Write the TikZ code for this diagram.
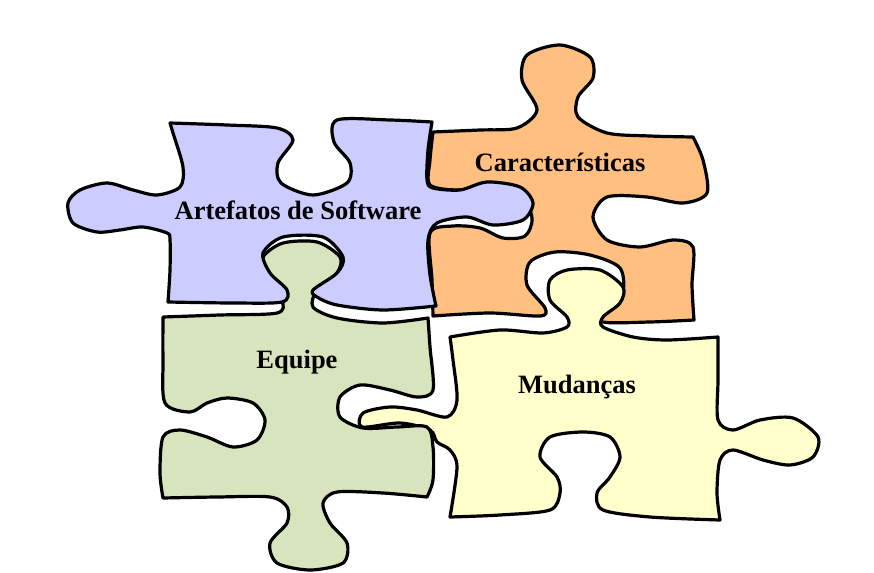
\documentclass[tikz,border=0pt]{standalone}
\usepackage{fontspec}
\setmainfont{Liberation Serif}
\definecolor{pcblue}{RGB}{204,204,255}
\definecolor{pcorange}{RGB}{255,191,128}
\definecolor{pcgreen}{RGB}{215,228,189}
\definecolor{pcyellow}{RGB}{255,255,204}
\begin{document}
\begin{tikzpicture}[x=1pt,y=-1pt,
  piece/.style={draw=black,line width=3.2pt,line join=round},
  lbl/.style={font=\bfseries\fontsize{26.5}{30}\selectfont}]
  \useasboundingbox (0,0) rectangle (874,572);
  % orange piece (back)
  \filldraw[piece,fill=pcorange] (433,132)
    -- plot[smooth] coordinates {(433,132) (480,130) (517,128) (537,110) (522,80) (527,55) (560,45) (590,57) (593,78) (578,97) (578,117) (607,133) (650,136) (693,137)}
    -- plot[smooth] coordinates {(693,137) (703,160) (707,193) (683,203) (647,197) (607,197) (593,217) (607,240) (640,247) (673,240) (693,247) (692,285) (694,320)}
    -- plot[smooth] coordinates {(694,320) (650,322) (603,322) (600,310) (622,295) (620,268) (590,255) (555,252) (530,262) (527,285) (545,308) (540,316) (490,313) (433,316)}
    -- plot[smooth] coordinates {(433,316) (432,280) (430,233) (453,226) (480,228) (503,238) (525,236) (532,218) (520,192) (490,184) (460,190) (430,185) (430,160) (433,132)}
    -- cycle;
  % yellow piece
  \filldraw[piece,fill=pcyellow] (450,337)
    -- plot[smooth] coordinates {(450,337) (500,330) (543,333) (567,327) (567,317) (550,300) (550,280) (567,270) (600,270) (623,287) (620,303) (603,317) (603,327) (633,337) (667,340) (718,337)}
    -- plot[smooth] coordinates {(718,337) (718,380) (718,420) (733,430) (760,420) (793,418) (818,437) (813,457) (790,465) (763,460) (733,450) (720,460) (717,493) (720,520)}
    -- plot[smooth] coordinates {(720,520) (650,517) (603,510) (597,493) (610,477) (620,457) (610,437) (583,432) (550,437) (540,457) (557,477) (560,493) (550,510) (500,515) (450,517)}
    -- plot[smooth] coordinates {(450,517) (457,467) (450,450) (437,442) (430,430) (400,423) (362,427) (363,413) (390,407) (417,410) (447,417) (457,400) (453,360) (450,337)}
    -- cycle;
  % green piece
  \filldraw[piece,fill=pcgreen] (163,317)
    -- plot[smooth] coordinates {(163,317) (220,315) (277,313) (282,300) (267,273) (263,257) (283,243) (317,242) (340,257) (337,273) (317,290) (313,307) (337,318) (383,323) (428,318)}
    -- plot[smooth] coordinates {(428,318) (430,347) (433,390) (417,397) (390,390) (360,385) (340,397) (340,417) (363,428) (397,427) (427,427) (433,447) (433,480) (427,497)}
    -- plot[smooth] coordinates {(427,497) (383,493) (337,492) (323,503) (330,523) (347,543) (343,563) (310,570) (277,563) (270,543) (287,523) (287,507) (270,497) (217,497) (163,498)}
    -- plot[smooth] coordinates {(163,498) (160,473) (163,437) (180,430) (207,437) (233,447) (257,440) (265,420) (253,403) (227,398) (207,403) (190,412) (165,403) (163,360) (163,317)}
    -- cycle;
  % blue piece (front)
  \filldraw[piece,fill=pcblue] (170,123)
    -- plot[smooth] coordinates {(170,123) (227,125) (277,128) (293,140) (278,163) (281,183) (313,195) (347,183) (350,163) (334,142) (337,120) (390,120) (432,122)}
    -- plot[smooth] coordinates {(432,122) (428,150) (427,180) (433,188) (460,190) (487,182) (520,187) (533,203) (523,220) (493,225) (467,217) (437,223) (428,240) (430,275) (436,306)}
    -- plot[smooth] coordinates {(436,306) (383,310) (337,305) (317,297) (313,290) (337,273) (343,257) (323,237) (283,237) (263,253) (270,273) (287,290) (282,302) (233,303) (168,302)}
    -- plot[smooth] coordinates {(168,302) (170,270) (170,240) (167,233) (143,227) (120,230) (97,232) (73,223) (68,203) (80,190) (107,183) (133,190) (157,195) (180,187) (183,167) (173,133) (170,123)}
    -- cycle;
  % labels
  \node[lbl] (artefatos) at (298,210) {Artefatos de Software};
  \node[lbl] (caract) at (560,162) {Características};
  \node[lbl] (equipe) at (297,362) {Equipe};
  \node[lbl] (mudancas) at (577,387) {Mudanças};
\end{tikzpicture}
\end{document}
